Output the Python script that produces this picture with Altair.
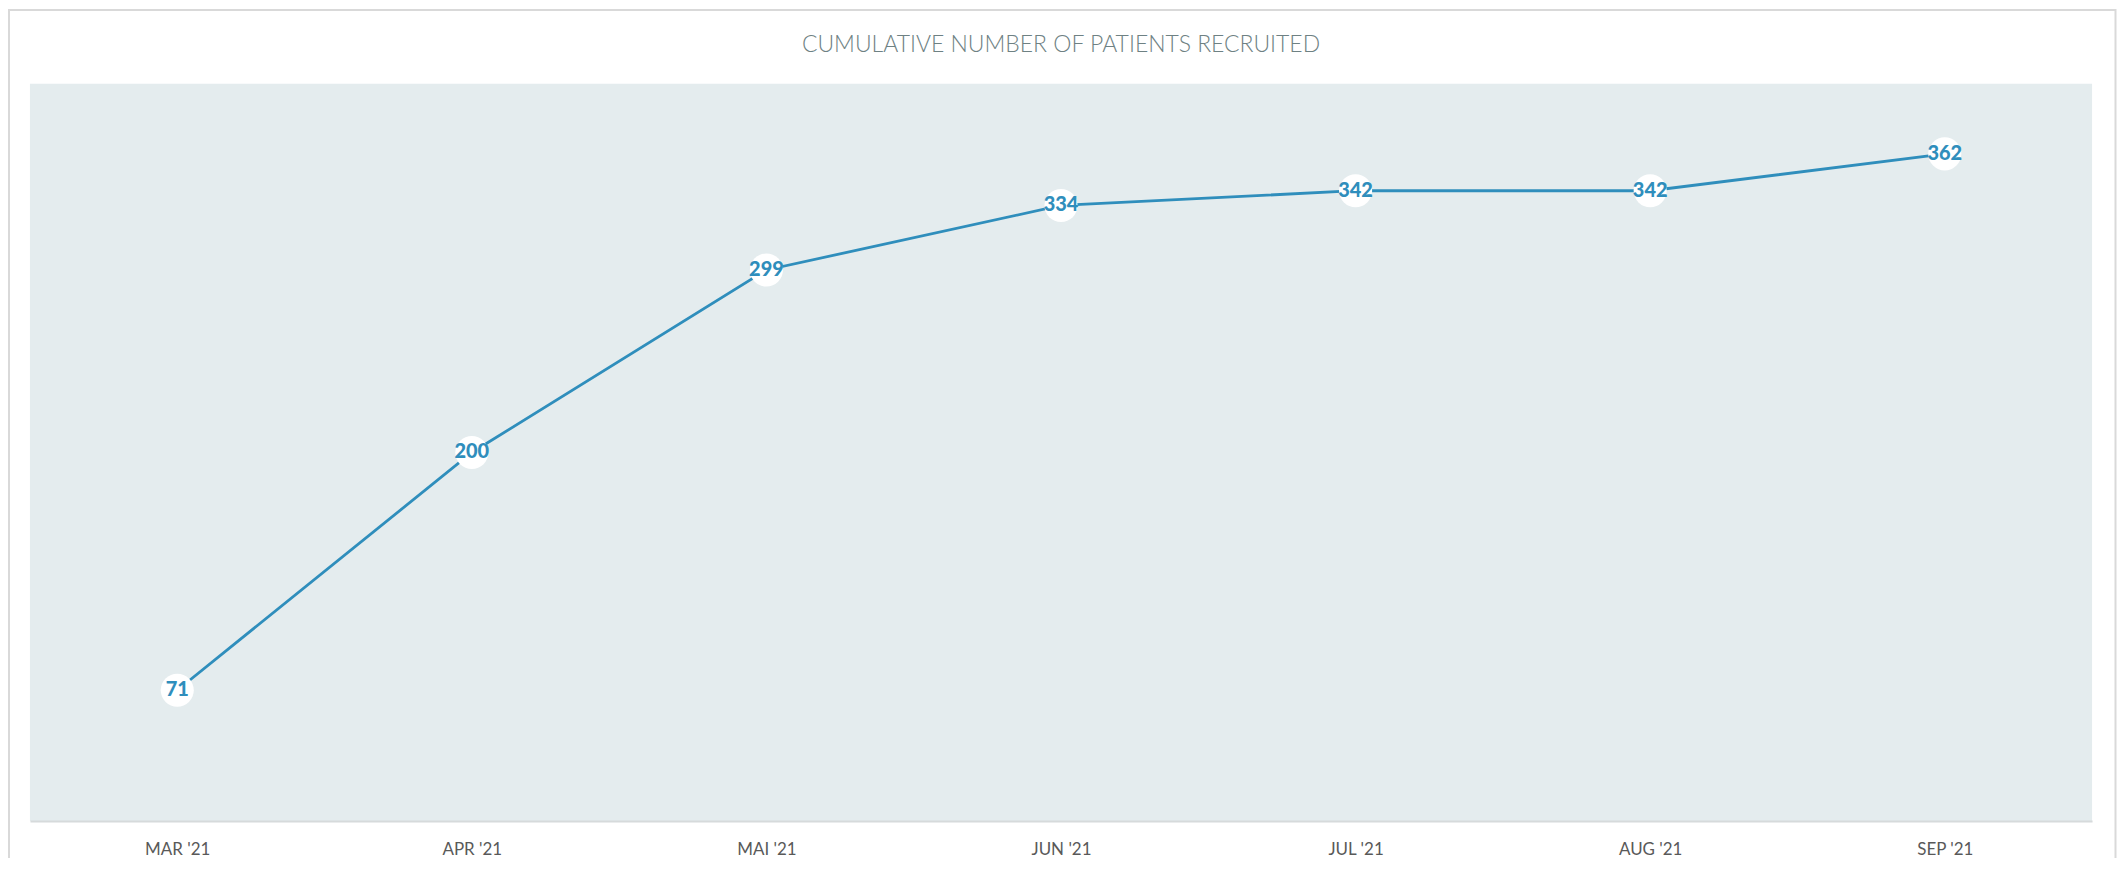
import altair as alt
import pandas as pd

months = ["MAR '21", "APR '21", "MAI '21", "JUN '21", "JUL '21", "AUG '21", "SEP '21"]
patients = [71, 200, 299, 334, 342, 342, 362]

df = pd.DataFrame({"month": months, "patients": patients})

LINE_COLOR = "#2f8ebc"

x_enc = alt.X("month:N", sort=months,
              scale=alt.Scale(type="point", padding=0.5),
              axis=alt.Axis(title=None, ticks=False, labelAngle=0, labelPadding=21,
                            labelFont="Lato", labelFontSize=17, labelColor="#595959",
                            domainColor="#d6dadb", domainWidth=2, grid=False))
y_enc = alt.Y("patients:Q", scale=alt.Scale(domain=[0, 400], nice=False, zero=True),
              axis=None)

base = alt.Chart(df).encode(x=x_enc, y=y_enc)

line = base.mark_line(color=LINE_COLOR, strokeWidth=2.8)
dots = base.mark_point(filled=True, color="white", size=1100, opacity=1, shape="circle")
labels = base.mark_text(font="Lato", fontSize=20, fontWeight=900, color=LINE_COLOR,
                        baseline="middle", align="center").encode(text="patients:Q")

frame = alt.Chart(pd.DataFrame({"k": [0]})).mark_rect(
    fill=None, stroke="#d9d9d9", strokeWidth=2
).encode(x=alt.value(-21), x2=alt.value(2090.5), y=alt.value(-74), y2=alt.value(900))

chart = alt.layer(frame, line, dots, labels).properties(
    width=2067, height=739,
    title=alt.TitleParams("CUMULATIVE NUMBER OF PATIENTS RECRUITED",
                          font="Lato", fontSize=23, fontWeight=300, color="#6e8183",
                          anchor="middle", offset=-48),
    autosize=alt.AutoSizeParams(type="none"),
    padding={"left": 22, "top": 75, "right": 25, "bottom": 36},
    background="white",
).configure_view(fill="#e4ecee", stroke=None)

chart.save("out.html", embed_options={"renderer": "svg", "actions": False})
